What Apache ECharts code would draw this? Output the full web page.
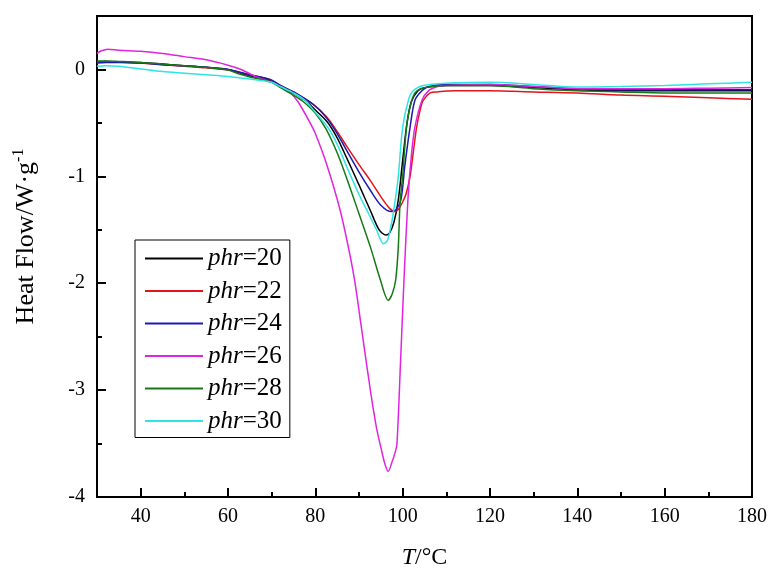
<!DOCTYPE html>
<html>
<head>
<meta charset="utf-8">
<script src="https://cdn.jsdelivr.net/npm/echarts@6/dist/echarts.min.js"></script>
<style>html,body{margin:0;padding:0;background:#fff}#c{width:783px;height:576px}</style>
</head>
<body>
<div id="c"></div>
<script>
// ---- data (T in °C, heat flow in W·g^-1) ----
const seriesNames = ['phr=20', 'phr=22', 'phr=24', 'phr=26', 'phr=28', 'phr=30'];
const seriesColors = ['#000000', '#e3141c', '#1a1ab4', '#e024e0', '#157a15', '#2ee4e4'];

const t20 = [30,32,35,40,45,50,55,60,65,70,72,75,78,80,82.7,85,87.2,90,92.6,94.6,96.2,97,98,99,100,101,102,103.5,105,110,120,130,140,150,160,170,180];
const v20 = [0.07,0.075,0.07,0.065,0.05,0.035,0.02,0.0,-0.06,-0.11,-0.16,-0.22,-0.3,-0.38,-0.49,-0.64,-0.83,-1.08,-1.32,-1.5,-1.55,-1.53,-1.43,-1.22,-0.85,-0.5,-0.3,-0.2,-0.17,-0.15,-0.15,-0.17,-0.19,-0.2,-0.2,-0.2,-0.2];

const t22 = [30,32,35,40,45,50,55,60,65,70,72,75,79.6,82.7,85,87.2,90,92.6,95.5,97,98.2,99,100,100.8,101.7,102.5,103.2,104,104.7,106.3,108,112,120,130,140,150,160,170,180];
const v22 = [0.07,0.075,0.07,0.06,0.045,0.03,0.015,-0.005,-0.05,-0.1,-0.15,-0.21,-0.33,-0.45,-0.58,-0.72,-0.89,-1.04,-1.22,-1.3,-1.33,-1.31,-1.24,-1.16,-1.0,-0.75,-0.54,-0.38,-0.29,-0.22,-0.21,-0.2,-0.2,-0.21,-0.22,-0.24,-0.25,-0.265,-0.28];

const t24 = [30,32,35,40,45,50,55,60,65,70,72,75,79.6,82.7,85,87.2,90,92.6,95,97.4,98.5,99.6,100.5,101.7,102.8,104.4,106,110,120,130,140,150,160,170,180];
const v24 = [0.06,0.065,0.065,0.06,0.045,0.035,0.02,0.0,-0.05,-0.1,-0.15,-0.21,-0.33,-0.46,-0.6,-0.76,-0.96,-1.13,-1.27,-1.33,-1.31,-1.22,-0.9,-0.54,-0.29,-0.2,-0.16,-0.14,-0.14,-0.16,-0.18,-0.19,-0.19,-0.19,-0.19];

const t26 = [30,31,32.5,35,40,45,50,55,60,63,66.5,70,72,74.3,76,78.8,80,82.7,85.7,88,89.1,90.5,92.6,94,95.2,96,96.7,97.5,98.3,98.7,99.5,100.3,101.2,102,102.8,104.4,105.9,108,110,120,130,140,150,160,170,180];
const v26 = [0.15,0.175,0.19,0.18,0.17,0.15,0.12,0.09,0.04,0.0,-0.07,-0.12,-0.16,-0.22,-0.3,-0.5,-0.6,-0.9,-1.32,-1.75,-2.0,-2.4,-3.0,-3.35,-3.57,-3.7,-3.76,-3.68,-3.58,-3.5,-2.75,-1.97,-1.22,-0.8,-0.54,-0.29,-0.2,-0.16,-0.15,-0.14,-0.16,-0.18,-0.18,-0.18,-0.175,-0.17];

const t28 = [30,32,35,40,45,50,55,60,62,65,70,72,75,77.2,80,82.5,85,87.2,90,92.6,94.9,96.7,97.6,98.4,99,99.4,100,100.5,101,102,103,105,110,120,130,140,150,160,170,180];
const v28 = [0.08,0.08,0.075,0.065,0.05,0.035,0.02,-0.005,-0.035,-0.07,-0.12,-0.17,-0.24,-0.3,-0.41,-0.56,-0.78,-1.02,-1.35,-1.66,-1.97,-2.16,-2.1,-1.97,-1.66,-1.25,-1.0,-0.72,-0.5,-0.3,-0.21,-0.17,-0.15,-0.15,-0.18,-0.2,-0.21,-0.22,-0.22,-0.22];

const t30 = [30,32,35,40,45,50,55,60,65,70,72,75,77.7,80,83,85,87.2,90,92.2,94,95.6,96.5,97.4,98.3,99,100,101.3,102.4,104.7,110,120,130,140,150,160,170,180];
const v30 = [0.03,0.035,0.03,0.005,-0.02,-0.035,-0.05,-0.065,-0.09,-0.12,-0.16,-0.22,-0.29,-0.4,-0.55,-0.7,-0.91,-1.17,-1.35,-1.5,-1.63,-1.6,-1.45,-1.22,-1.0,-0.54,-0.29,-0.2,-0.15,-0.128,-0.12,-0.14,-0.165,-0.16,-0.15,-0.135,-0.12];

const xMajorTicks = [40, 60, 80, 100, 120, 140, 160, 180];
const xMinorTicks = [50, 70, 90, 110, 130, 150, 170];
const yMajorTicks = [-4, -3, -2, -1, 0];
const yMinorTicks = [-3.5, -2.5, -1.5, -0.5];

const tempSets = [t20, t22, t24, t26, t28, t30];
const valueSets = [v20, v22, v24, v26, v28, v30];

// ---- chart ----
const FONT = 'Liberation Serif';
const chart = echarts.init(document.getElementById('c'));

const series = seriesNames.map((name, i) => ({
  name: name,
  type: 'line',
  data: tempSets[i].map((t, k) => [t, valueSets[i][k]]),
  showSymbol: false,
  smooth: 0.3,
  lineStyle: { width: 1.5, color: seriesColors[i] },
  itemStyle: { color: seriesColors[i] },
  xAxisIndex: 0,
  yAxisIndex: 0,
  z: 2 + i
}));

const option = {
  animation: false,
  backgroundColor: '#fff',
  grid: {
    left: 97, right: 31, top: 16, bottom: 79,
    show: true, borderColor: '#000', borderWidth: 2, backgroundColor: 'transparent'
  },
  legend: {
    orient: 'vertical',
    left: 135, top: 240,
    backgroundColor: '#fff',
    borderColor: '#000', borderWidth: 1,
    padding: [6, 8, 4, 10],
    itemWidth: 58, itemHeight: 2, itemGap: 7.5,
    icon: 'rect',
    data: seriesNames,
    formatter: function (name) { return '{i|phr}' + name.slice(3); },
    textStyle: {
      fontFamily: FONT, fontSize: 25, color: '#000', lineHeight: 24,
      rich: { i: { fontFamily: FONT, fontSize: 25, fontStyle: 'italic', color: '#000', lineHeight: 24 } }
    }
  },
  xAxis: [
    {
      type: 'value', min: 30, max: 180,
      position: 'bottom',
      splitLine: { show: false },
      axisLine: { show: true, onZero: false, lineStyle: { color: '#000', width: 2 } },
      axisTick: { show: true, inside: true, length: 9, customValues: xMajorTicks, lineStyle: { color: '#000', width: 2 } },
      axisLabel: { show: true, customValues: xMajorTicks, margin: 10, fontFamily: FONT, fontSize: 20, color: '#000' },
      name: '{i|T}/°C',
      nameLocation: 'middle', nameGap: 49,
      nameTextStyle: {
        fontFamily: FONT, fontSize: 24, color: '#000',
        rich: { i: { fontFamily: FONT, fontSize: 24, fontStyle: 'italic', color: '#000' } }
      }
    },
    {
      type: 'value', min: 30, max: 180,
      position: 'bottom',
      splitLine: { show: false },
      axisLine: { show: false, onZero: false },
      axisTick: { show: true, inside: true, length: 5, customValues: xMinorTicks, lineStyle: { color: '#000', width: 2 } },
      axisLabel: { show: false }
    }
  ],
  yAxis: [
    {
      type: 'value', min: -4, max: 0.5, interval: 1,
      position: 'left',
      splitLine: { show: false },
      axisLine: { show: true, onZero: false, lineStyle: { color: '#000', width: 2 } },
      axisTick: { show: true, inside: true, length: 9, customValues: yMajorTicks, lineStyle: { color: '#000', width: 2 } },
      axisLabel: { show: true, customValues: yMajorTicks, margin: 12, fontFamily: FONT, fontSize: 20, color: '#000' },
      name: '{a|Heat Flow/W·g}{s|-1}',
      nameLocation: 'middle', nameGap: 56, nameRotate: 90,
      nameTextStyle: {
        fontFamily: FONT, fontSize: 26, color: '#000',
        padding: [0, 0, 0, 40],
        rich: {
          a: { fontFamily: FONT, fontSize: 26, color: '#000', lineHeight: 30 },
          s: { fontFamily: FONT, fontSize: 16, color: '#000', verticalAlign: 'top', lineHeight: 16 }
        }
      }
    },
    {
      type: 'value', min: -4, max: 0.5,
      position: 'left',
      splitLine: { show: false },
      axisLine: { show: false, onZero: false },
      axisTick: { show: true, inside: true, length: 5, customValues: yMinorTicks, lineStyle: { color: '#000', width: 2 } },
      axisLabel: { show: false }
    }
  ],
  series: series
};

chart.setOption(option);
</script>
</body>
</html>
